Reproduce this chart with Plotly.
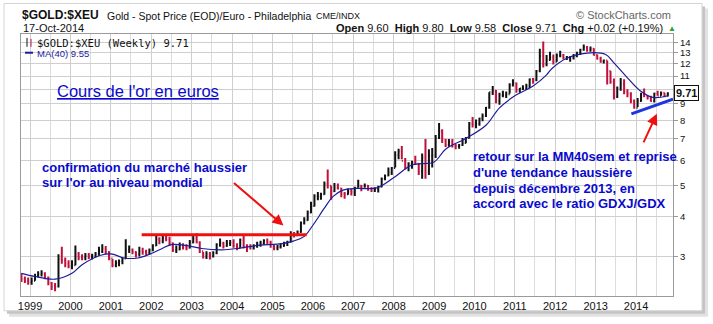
import math
import pandas as pd
import plotly.graph_objects as go

# ---- data: $GOLD:$XEU, one bar per month, Oct 1998 .. Oct 2014 ----
highs = [
    2.66, 2.60, 2.58,
    2.58, 2.65, 2.70, 2.72, 2.68, 2.60, 2.50, 2.48, 3.05, 3.22, 2.98, 2.92,
    2.92, 3.25, 3.10, 3.05, 3.08, 3.08, 3.06, 3.10, 3.22, 3.28, 3.24, 3.12,
    2.95, 2.92, 2.94, 2.98, 3.40, 3.25, 3.18, 3.12, 3.22, 3.20, 3.15, 3.18,
    3.28, 3.50, 3.45, 3.48, 3.52, 3.46, 3.32, 3.25, 3.32, 3.30, 3.28, 3.38,
    3.48, 3.55, 3.35, 3.10, 3.12, 3.10, 3.12, 3.30, 3.42, 3.34, 3.38, 3.38,
    3.40, 3.30, 3.42, 3.52, 3.28, 3.28, 3.28, 3.34, 3.36, 3.40, 3.42, 3.36,
    3.26, 3.26, 3.30, 3.34, 3.36, 3.60, 3.58, 3.62, 3.86, 3.98, 4.18, 4.45,
    4.70, 4.78, 4.75, 5.15, 5.62, 5.00, 5.10, 5.08, 4.92, 4.78, 4.90, 4.88,
    4.96, 5.22, 5.02, 5.08, 5.02, 4.94, 4.94, 5.00, 5.30, 5.42, 5.70, 5.72,
    6.40, 6.52, 6.65, 6.10, 5.92, 5.98, 6.20, 5.88, 6.30, 7.00, 6.50, 6.55,
    7.20, 7.85, 7.50, 7.00, 7.00, 7.00, 6.75, 6.75, 7.05, 7.10, 7.90, 8.20,
    8.05, 8.15, 8.40, 8.80, 9.80, 10.25, 9.95, 9.75, 9.90, 9.85, 10.45, 10.75,
    10.50, 10.10, 10.30, 10.40, 10.80, 10.85, 11.50, 13.40, 14.10, 12.80, 13.10, 12.85,
    12.95, 13.20, 12.90, 12.70, 12.70, 12.90, 13.10, 13.40, 13.80, 13.65, 13.60, 13.45,
    12.85, 12.65, 12.40, 12.30, 11.40, 10.80, 10.20, 10.85, 10.75, 10.00, 9.80, 9.30,
    9.40, 9.75, 10.05, 9.60, 9.55, 9.75, 9.90, 9.85, 9.75, 9.80,
]
lows = [
    2.50, 2.48, 2.45,
    2.45, 2.52, 2.58, 2.60, 2.55, 2.44, 2.36, 2.34, 2.40, 2.85, 2.78, 2.76,
    2.74, 2.82, 2.92, 2.92, 2.92, 2.95, 2.94, 2.98, 3.02, 3.08, 3.05, 2.92,
    2.78, 2.78, 2.80, 2.84, 2.95, 3.08, 3.05, 2.98, 3.00, 3.04, 3.02, 3.04,
    3.12, 3.24, 3.28, 3.30, 3.35, 3.25, 3.10, 3.08, 3.14, 3.16, 3.14, 3.18,
    3.30, 3.30, 3.08, 2.96, 2.95, 2.94, 2.98, 3.05, 3.22, 3.18, 3.22, 3.24,
    3.20, 3.14, 3.20, 3.18, 3.10, 3.16, 3.16, 3.20, 3.22, 3.26, 3.28, 3.20,
    3.14, 3.14, 3.18, 3.22, 3.24, 3.32, 3.44, 3.48, 3.56, 3.78, 3.88, 4.10,
    4.30, 4.50, 4.52, 4.68, 4.90, 4.52, 4.78, 4.86, 4.60, 4.55, 4.68, 4.66,
    4.64, 4.92, 4.80, 4.92, 4.82, 4.78, 4.78, 4.76, 4.94, 5.20, 5.35, 5.40,
    5.70, 6.05, 6.05, 5.62, 5.55, 5.65, 5.80, 5.40, 5.25, 5.25, 5.40, 5.70,
    6.10, 7.00, 6.80, 6.60, 6.62, 6.58, 6.50, 6.52, 6.65, 6.78, 7.02, 7.60,
    7.55, 7.70, 7.95, 8.20, 8.70, 9.60, 9.05, 8.95, 9.45, 9.40, 9.70, 10.20,
    9.75, 9.75, 9.95, 9.95, 10.10, 10.40, 10.60, 11.30, 11.70, 11.80, 12.30, 11.95,
    12.20, 12.60, 12.40, 12.35, 12.20, 12.40, 12.60, 12.80, 13.20, 13.10, 13.10, 12.75,
    12.40, 12.10, 12.05, 10.35, 10.40, 9.30, 9.40, 9.90, 9.65, 9.45, 9.05, 8.70,
    8.80, 9.15, 9.45, 9.30, 9.15, 9.10, 9.55, 9.55, 9.45, 9.50,
]
closes = [
    2.55, 2.52, 2.50,
    2.52, 2.60, 2.64, 2.66, 2.58, 2.48, 2.42, 2.42, 2.95, 2.92, 2.85, 2.80,
    2.82, 3.05, 2.98, 2.98, 3.02, 3.00, 3.02, 3.05, 3.12, 3.18, 3.10, 2.96,
    2.82, 2.86, 2.90, 2.96, 3.15, 3.15, 3.10, 3.05, 3.12, 3.10, 3.08, 3.14,
    3.25, 3.40, 3.36, 3.42, 3.40, 3.30, 3.14, 3.16, 3.26, 3.22, 3.20, 3.32,
    3.42, 3.32, 3.12, 3.00, 3.05, 3.00, 3.08, 3.26, 3.30, 3.24, 3.30, 3.32,
    3.24, 3.20, 3.38, 3.22, 3.22, 3.20, 3.24, 3.28, 3.30, 3.36, 3.32, 3.22,
    3.20, 3.22, 3.24, 3.30, 3.34, 3.52, 3.50, 3.58, 3.82, 3.90, 4.12, 4.32,
    4.62, 4.62, 4.70, 5.05, 5.00, 4.80, 4.92, 4.90, 4.72, 4.70, 4.80, 4.78,
    4.92, 5.00, 4.96, 5.00, 4.86, 4.84, 4.88, 4.96, 5.24, 5.38, 5.50, 5.68,
    6.22, 6.40, 5.98, 5.70, 5.85, 5.92, 5.85, 5.55, 6.12, 5.90, 6.20, 6.22,
    7.05, 7.40, 6.95, 6.70, 6.85, 6.65, 6.65, 6.70, 6.80, 7.05, 7.80, 7.78,
    7.80, 8.10, 8.25, 8.75, 9.80, 9.90, 9.20, 9.60, 9.60, 9.65, 10.30, 10.45,
    9.95, 10.05, 10.05, 10.20, 10.75, 10.70, 11.40, 12.70, 12.00, 12.35, 12.60, 12.20,
    12.75, 12.75, 12.50, 12.60, 12.60, 12.70, 13.00, 13.30, 13.55, 13.20, 13.40, 12.80,
    12.45, 12.20, 12.30, 11.40, 10.55, 9.50, 10.05, 10.40, 9.85, 9.70, 9.20, 8.75,
    9.20, 9.65, 9.55, 9.45, 9.20, 9.70, 9.55, 9.75, 9.55, 9.71,
]
first_open = 2.60
assert len(highs) == len(lows) == len(closes) == 193

# latest weekly bar quoted in the header
last_open, last_high, last_low, last_close = 9.60, 9.80, 9.58, 9.71
last_chg, last_chg_pct = 0.02, 0.19

# 40-week moving average
ma_dates = [
    "1998-10-15", "1999-02-15", "1999-08-15", "2000-01-15", "2000-04-15",
    "2000-10-01", "2001-01-01", "2001-05-01", "2001-09-01", "2001-12-15",
    "2002-04-01", "2002-07-01", "2002-12-01", "2003-04-01", "2003-10-01",
    "2004-03-15", "2004-09-15", "2005-02-15", "2005-07-15", "2005-10-15",
    "2006-01-01", "2006-04-15", "2006-07-01", "2006-10-01", "2007-02-01",
    "2007-08-01", "2008-01-01", "2008-06-15", "2009-01-01", "2009-04-15",
    "2009-10-15", "2010-04-15", "2010-08-15", "2011-01-01", "2011-06-15",
    "2011-10-15", "2011-12-01", "2012-04-15", "2012-10-15", "2013-04-01",
    "2013-06-15", "2013-10-01", "2014-02-01", "2014-06-01", "2014-10-17",
]
ma_values = [
    2.66, 2.60, 2.55, 2.66, 2.83,
    3.03, 3.06, 2.97, 2.97, 3.05,
    3.17, 3.27, 3.24, 3.18, 3.15,
    3.19, 3.26, 3.28, 3.36, 3.47,
    3.76, 4.25, 4.62, 4.84, 4.90,
    4.92, 5.29, 5.80, 5.93, 6.50,
    7.02, 7.72, 8.75, 9.54, 10.24,
    11.10, 11.60, 12.50, 12.98, 12.85,
    12.10, 11.00, 9.94, 9.44, 9.55,
]

# support line 2002-2005 and the rising trend line since late 2013
resist_dates, resist_values = ["2001-10-06", "2005-11-06"], [3.51, 3.51]
trend_dates, trend_values = ["2013-11-20", "2014-12-01"], [8.38, 9.32]

price_ticks = [3, 4, 5, 6, 7, 8, 9, 10, 11, 12, 13, 14]

# ---- figure ----
dates = pd.date_range("1998-10-01", periods=len(closes), freq="MS") + pd.Timedelta(days=14)
opens = [first_open] + closes[:-1]

FONT = "Arial, 'Liberation Sans', sans-serif"
BLUE_TXT = "#0a0acc"
RED = "#ee1111"
W, H = 713, 324
L, R, T, B = 21, 40, 34, 24
PW, PH = W - L - R, H - T - B


def px(x):
    return (x - L) / PW


def py(y):
    return (H - B - y) / PH


fig = go.Figure()
fig.add_trace(go.Ohlc(
    x=dates, open=opens, high=highs, low=lows, close=closes,
    increasing=dict(line=dict(color="#111111", width=2)),
    decreasing=dict(line=dict(color="#c0103c", width=2)),
    tickwidth=0.35, hoverinfo="skip",
))
fig.add_trace(go.Scatter(
    x=ma_dates, y=ma_values, mode="lines", line=dict(color="#1c1c9c", width=1.2, shape="spline"),
    hoverinfo="skip",
))
fig.add_trace(go.Scatter(
    x=resist_dates, y=resist_values, mode="lines", line=dict(color=RED, width=3), hoverinfo="skip",
))
fig.add_trace(go.Scatter(
    x=trend_dates, y=trend_values, mode="lines", line=dict(color="#1f35dd", width=3), hoverinfo="skip",
))

shapes = [
    # drop shadow and white panel
    dict(type="rect", xref="paper", yref="paper", x0=px(9), x1=px(708), y0=py(8), y1=py(321),
         fillcolor="#e2e2e2", line=dict(width=0), layer="below"),
    dict(type="rect", xref="paper", yref="paper", x0=px(7), x1=px(705), y0=py(6), y1=py(318),
         fillcolor="#c4c4c4", line=dict(width=0), layer="below"),
    dict(type="rect", xref="paper", yref="paper", x0=px(4), x1=px(702), y0=py(3), y1=py(315),
         fillcolor="white", line=dict(color="#d4d4d4", width=1), layer="below"),
    # legend markers
    dict(type="line", xref="paper", yref="paper", x0=px(27), x1=px(27), y0=py(38), y1=py(47),
         line=dict(color="#111", width=1)),
    dict(type="line", xref="paper", yref="paper", x0=px(31), x1=px(31), y0=py(39), y1=py(47),
         line=dict(color="#c0103c", width=1)),
    dict(type="line", xref="paper", yref="paper", x0=px(25), x1=px(33), y0=py(53), y1=py(53),
         line=dict(color="#1c1c9c", width=2)),
]


def text(x, y, s, size=11, color="#111", anchor="left", family=FONT):
    return dict(xref="paper", yref="paper", x=px(x), y=py(y), text=s, showarrow=False,
                xanchor=anchor, yanchor="middle", font=dict(size=size, color=color, family=family))


ann = [
    text(20, 15, "<b>$GOLD:$XEU</b>", size=12),
    text(105, 15.5, "Gold - Spot Price (EOD)/Euro - Philadelphia", size=10.5),
    text(314, 16, "CME/INDX", size=9),
    text(673, 15, "© StockCharts.com", size=11, color="#666", anchor="right"),
    text(21, 28, "17-Oct-2014", size=11),
    text(665, 28,
         f"<b>Open</b> {last_open:.2f}  <b>High</b> {last_high:.2f}  <b>Low</b> {last_low:.2f}  "
         f"<b>Close</b> {last_close:.2f}  <b>Chg</b> {last_chg:+.2f} ({last_chg_pct:+.2f}%)",
         size=11, anchor="right"),
    text(666, 28, "▲", size=8, color="#2e9e2e"),
    text(35, 43.5, f"$GOLD:$XEU (Weekly) {closes[-1]:.2f}", size=10.5,
         family="'DejaVu Sans Mono', monospace"),
    text(35, 53.5, f"MA(40) {ma_values[-1]:.2f}", size=9.5, color="#1c1c9c"),
    text(55, 92, "<u>Cours de l'or en euros</u>", size=16.5, color=BLUE_TXT),
    text(40, 170, "<b>confirmation du marché haussier</b>", size=13, color=BLUE_TXT),
    text(40, 185, "<b>sur l'or au niveau mondial</b>", size=13, color=BLUE_TXT),
    text(470.5, 158.5, "<b>retour sur la MM40sem et reprise</b>", size=13, color=BLUE_TXT),
    text(470.5, 174.5, "<b>d'une tendance haussière</b>", size=13, color=BLUE_TXT),
    text(470.5, 190.5, "<b>depuis décembre 2013, en</b>", size=13, color=BLUE_TXT),
    text(470.5, 206.5, "<b>accord avec le ratio GDXJ/GDX</b>", size=13, color=BLUE_TXT),
    # last price flag on the price axis
    dict(xref="paper", yref="y", x=1.0, y=math.log10(closes[-1]), xshift=1,
         text=f"<b>{closes[-1]:.2f}</b>", showarrow=False, xanchor="left", yanchor="middle",
         bgcolor="white", bordercolor="#111", borderwidth=1, borderpad=1,
         font=dict(size=11, color="#111", family=FONT)),
    # red arrows
    dict(xref="x", yref="y", x="2005-04-10", y=0.574, ax=-51, ay=-44, text="", showarrow=True,
         arrowhead=2, arrowsize=1.1, arrowwidth=2, arrowcolor=RED),
    dict(xref="x", yref="y", x="2014-07-08", y=0.9234, ax=-14, ay=30, text="", showarrow=True,
         arrowhead=2, arrowsize=1.1, arrowwidth=2, arrowcolor=RED),
]

# the last-price flag sits over the "10" label, so that label is left blank
tick_text = ["" if v == 10 else str(v) for v in price_ticks]

fig.update_layout(
    width=W, height=H, margin=dict(l=L, r=R, t=T, b=B),
    paper_bgcolor="white", plot_bgcolor="white", showlegend=False,
    font=dict(family=FONT, size=11, color="#111"),
    shapes=shapes, annotations=ann,
    xaxis=dict(
        type="date", range=["1998-10-11", "2014-12-01"], rangeslider=dict(visible=False),
        tick0="1999-01-01", dtick="M12", tickformat="%Y", ticks="",
        showgrid=True, gridcolor="#cfcfcf", gridwidth=1,
        minor=dict(dtick="M6", tick0="1999-01-01", showgrid=True, gridcolor="#dcdcdc", gridwidth=1),
        showline=True, linecolor="#9a9a9a", mirror=True, zeroline=False,
        tickfont=dict(size=11, color="#111"),
    ),
    yaxis=dict(
        type="log", range=[0.354, 1.1729], side="right",
        tickvals=price_ticks, ticktext=tick_text,
        ticks="outside", ticklen=4, tickcolor="#9a9a9a",
        showgrid=True, gridcolor="#cfcfcf", gridwidth=1,
        showline=True, linecolor="#9a9a9a", mirror=True, zeroline=False,
        tickfont=dict(size=9.5, color="#111"),
    ),
)

fig.write_html("out.html")
